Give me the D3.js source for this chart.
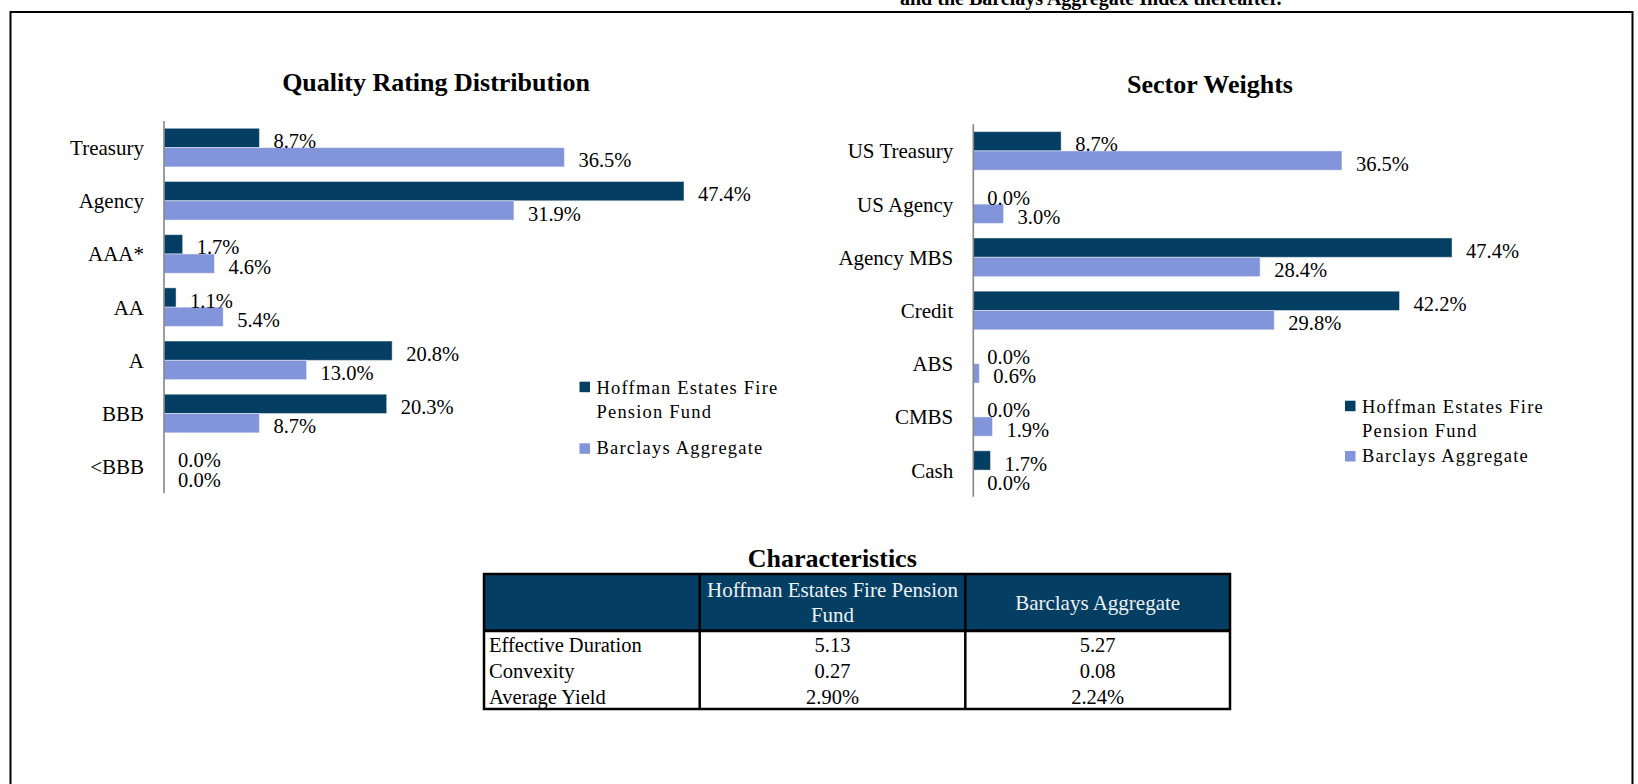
<!DOCTYPE html>
<html>
<head>
<meta charset="utf-8">
<script src="https://cdn.jsdelivr.net/npm/d3@7"></script>
<style>
  body { margin: 0; background: #fff; }
  svg { display: block; font-family: "Liberation Serif", "Times New Roman", serif; }
</style>
</head>
<body>
<div id="chart"></div>
<script>
// data
const qualityCategories = ["Treasury", "Agency", "AAA*", "AA", "A", "BBB", "<BBB"];
const qualityFund = [8.7, 47.4, 1.7, 1.1, 20.8, 20.3, 0.0];
const qualityIndex = [36.5, 31.9, 4.6, 5.4, 13.0, 8.7, 0.0];

const sectorCategories = ["US Treasury", "US Agency", "Agency MBS", "Credit", "ABS", "CMBS", "Cash"];
const sectorFund = [8.7, 0.0, 47.4, 42.2, 0.0, 0.0, 1.7];
const sectorIndex = [36.5, 3.0, 28.4, 29.8, 0.6, 1.9, 0.0];

const seriesNames = ["Hoffman Estates Fire Pension Fund", "Barclays Aggregate"];
const legendLines = [["Hoffman Estates Fire", "Pension Fund"], ["Barclays Aggregate"]];

const charHeader = [["Hoffman Estates Fire Pension", "Fund"], ["Barclays Aggregate"]];
const charRows = ["Effective Duration", "Convexity", "Average Yield"];
const charFund = ["5.13", "0.27", "2.90%"];
const charIndex = ["5.27", "0.08", "2.24%"];

const navy = "#043f63", lilac = "#8295da";
const colors = [navy, lilac];

const svg = d3.select("#chart").append("svg")
  .attr("width", 1638)
  .attr("height", 784);

// page frame + clipped sentence from the text above
svg.append("path")
  .attr("d", "M10.5,790 V12 H1632.5 V790")
  .attr("fill", "none")
  .attr("stroke", "#000")
  .attr("stroke-width", 2);

svg.append("text")
  .attr("x", 900).attr("y", 5)
  .attr("font-size", 20).attr("font-weight", "bold")
  .text("and the Barclays Aggregate Index thereafter.");

function barChart(cfg) {
  const g = svg.append("g");
  const rows = cfg.categories.map((c, i) => ({ cat: c, vals: [cfg.fund[i], cfg.index[i]] }));

  const x = d3.scaleLinear().domain([0, 50]).range([cfg.x0, cfg.x0 + cfg.pxPerPct * 50]);
  const y = d3.scaleBand().domain(cfg.categories).range([cfg.y0, cfg.y1])
    .paddingInner(0.274).paddingOuter(0.137);
  const sub = d3.scaleBand().domain([0, 1]).range([0, y.bandwidth()]);

  g.append("text")
    .attr("x", cfg.titleX).attr("y", cfg.titleY)
    .attr("text-anchor", "middle")
    .attr("font-size", 26).attr("font-weight", "bold")
    .text(cfg.title);

  const grp = g.selectAll("g.cat").data(rows).join("g")
    .attr("class", "cat")
    .attr("transform", d => `translate(0,${y(d.cat)})`);

  grp.selectAll("rect").data(d => d.vals).join("rect")
    .attr("x", x(0))
    .attr("y", (v, i) => sub(i))
    .attr("width", v => x(v) - x(0))
    .attr("height", sub.bandwidth())
    .attr("fill", (v, i) => colors[i])
    .attr("stroke", "rgba(255,255,255,0.45)")
    .attr("stroke-width", v => v > 0 ? 1 : 0);

  grp.selectAll("text.val").data(d => d.vals).join("text")
    .attr("class", "val")
    .attr("x", v => x(v) + 14)
    .attr("y", (v, i) => sub(i) + sub.bandwidth() + 0.5)
    .attr("font-size", 20.5)
    .text(v => v.toFixed(1) + "%");

  grp.append("text")
    .attr("x", x(0) - 20)
    .attr("y", y.bandwidth() / 2 + 7.5)
    .attr("text-anchor", "end")
    .attr("font-size", 21)
    .text(d => d.cat);

  g.append("line")
    .attr("x1", x(0)).attr("x2", x(0))
    .attr("y1", cfg.y0).attr("y2", cfg.y1)
    .attr("stroke", "#868686").attr("stroke-width", 1.6);

  // legend
  const leg = g.append("g");
  cfg.legend.forEach((it, i) => {
    leg.append("rect")
      .attr("x", cfg.legX).attr("y", it.sy)
      .attr("width", 10.5).attr("height", 10.5)
      .attr("fill", colors[i]);
    legendLines[i].forEach((ln, j) => {
      leg.append("text")
        .attr("x", cfg.legX + 17).attr("y", it.by + j * 24)
        .attr("font-size", 18.5).attr("letter-spacing", 1.2)
        .text(ln);
    });
  });
}

barChart({
  title: "Quality Rating Distribution", titleX: 436, titleY: 91,
  categories: qualityCategories, fund: qualityFund, index: qualityIndex,
  x0: 164, pxPerPct: 10.97, y0: 121, y1: 493.3,
  legX: 579.5, legend: [{ sy: 381.7, by: 394.3 }, { sy: 443.3, by: 454 }]
});

barChart({
  title: "Sector Weights", titleX: 1210, titleY: 93,
  categories: sectorCategories, fund: sectorFund, index: sectorIndex,
  x0: 973.3, pxPerPct: 10.1, y0: 124.3, y1: 496.7,
  legX: 1345, legend: [{ sy: 400.7, by: 413.3 }, { sy: 451, by: 462.3 }]
});

// Characteristics table
const tbl = svg.append("g");
const colX = [484, 699.7, 965.3, 1230];
const tblTop = 574, headBottom = 630.7, tblBottom = 709;

tbl.append("text")
  .attr("x", 832.3).attr("y", 566.7)
  .attr("text-anchor", "middle")
  .attr("font-size", 26).attr("font-weight", "bold")
  .text("Characteristics");

tbl.append("rect")
  .attr("x", colX[0]).attr("y", tblTop)
  .attr("width", colX[3] - colX[0]).attr("height", headBottom - tblTop)
  .attr("fill", navy);

charHeader.forEach((lines, i) => {
  const cx = (colX[i + 1] + colX[i + 2]) / 2;
  const base = lines.length > 1 ? 596.7 : 610;
  lines.forEach((ln, j) => {
    tbl.append("text")
      .attr("x", cx).attr("y", base + j * 25.6)
      .attr("text-anchor", "middle")
      .attr("font-size", 21).attr("fill", "#eef1f5")
      .text(ln);
  });
});

const rowY = d3.scaleBand().domain(charRows).range([headBottom, tblBottom]);
charRows.forEach((r, i) => {
  const by = rowY(r) + 21;
  tbl.append("text").attr("x", 489).attr("y", by).attr("font-size", 20.5).text(r);
  tbl.append("text").attr("x", (colX[1] + colX[2]) / 2).attr("y", by)
    .attr("text-anchor", "middle").attr("font-size", 20.5).text(charFund[i]);
  tbl.append("text").attr("x", (colX[2] + colX[3]) / 2).attr("y", by)
    .attr("text-anchor", "middle").attr("font-size", 20.5).text(charIndex[i]);
});

tbl.append("line")
  .attr("x1", colX[0]).attr("x2", colX[3])
  .attr("y1", headBottom).attr("y2", headBottom)
  .attr("stroke", "#000").attr("stroke-width", 3);

[colX[1], colX[2]].forEach(cx => {
  tbl.append("line")
    .attr("x1", cx).attr("x2", cx).attr("y1", tblTop).attr("y2", tblBottom)
    .attr("stroke", "#000").attr("stroke-width", 2.5);
});

tbl.append("rect")
  .attr("x", colX[0]).attr("y", tblTop)
  .attr("width", colX[3] - colX[0]).attr("height", tblBottom - tblTop)
  .attr("fill", "none").attr("stroke", "#000").attr("stroke-width", 2.5);
</script>
</body>
</html>
